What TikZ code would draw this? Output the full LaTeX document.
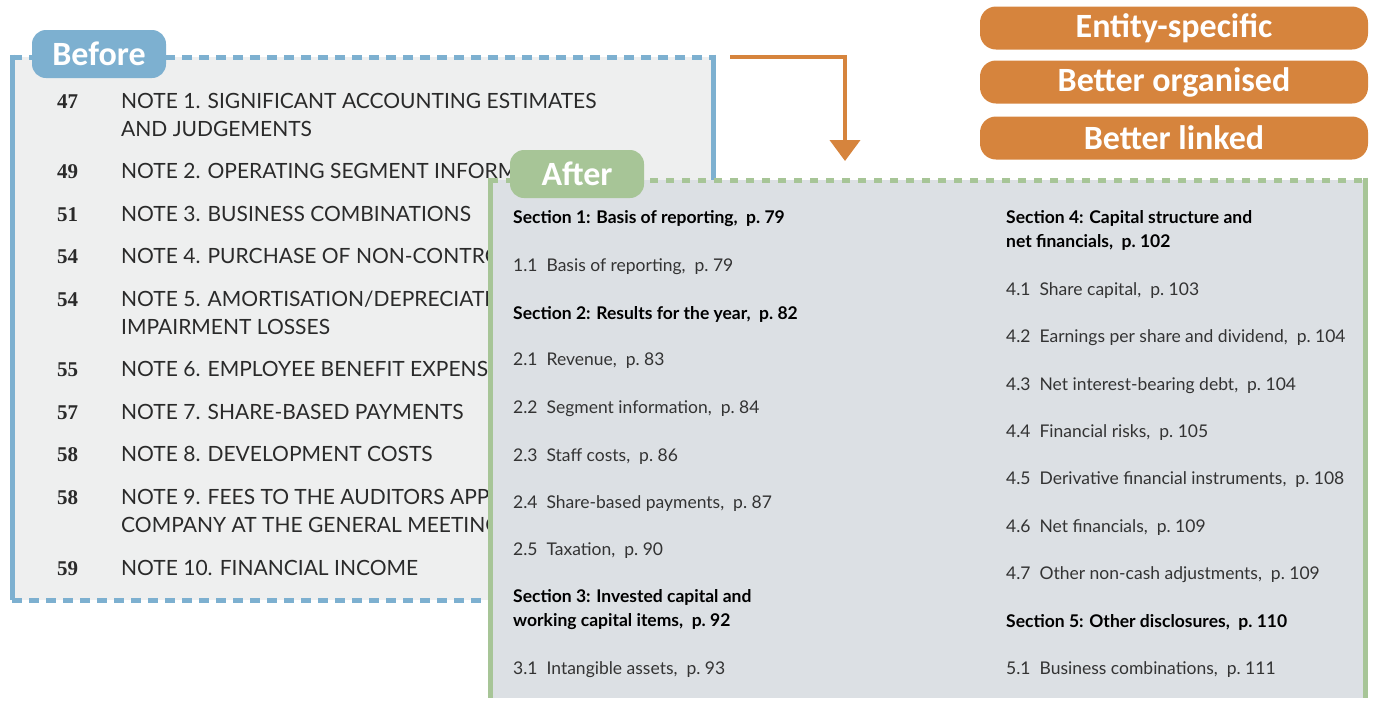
\documentclass[tikz,border=0pt]{standalone}
\usepackage{fontspec}
\setmainfont{Lato}
\newfontfamily\tagfont{Carlito}
\newfontfamily\pagefont{Liberation Serif}
\usetikzlibrary{arrows.meta}
\definecolor{beforeblue}{HTML}{7DB0D0}
\definecolor{aftergreen}{HTML}{A7C597}
\definecolor{keyorange}{HTML}{D6843D}
\definecolor{beforefill}{HTML}{EEEFEF}
\definecolor{afterfill}{HTML}{DCE0E4}
\definecolor{notegray}{HTML}{2A2A2A}
\definecolor{itemgray}{HTML}{333333}
\tikzstyle{tag}=[rounded corners=14pt, minimum width=134pt, minimum height=48pt, text=white, font=\tagfont\bfseries\fontsize{34}{34}\selectfont]
\tikzstyle{pill}=[rounded corners=16pt, fill=keyorange, minimum width=388pt, minimum height=43pt, text=white, font=\tagfont\bfseries\fontsize{34}{34}\selectfont]
\tikzstyle{note}=[anchor=base west, align=left, inner sep=0pt, text=notegray, font=\fontsize{21}{28}\selectfont]
\tikzstyle{pagenum}=[anchor=base west, inner sep=0pt, text=notegray, font=\pagefont\bfseries\fontsize{21}{28}\selectfont]
\tikzstyle{sect}=[anchor=base west, align=left, inner sep=0pt, text=black, font=\bfseries\fontsize{17.5}{24}\selectfont]
\tikzstyle{item}=[anchor=base west, inner sep=0pt, text=itemgray, font=\fontsize{17.5}{24}\selectfont]
\tikzstyle{frame}=[line width=5pt]

\begin{document}
\begin{tikzpicture}[x=1pt,y=-1pt]
\useasboundingbox (0,0) rectangle (1375,702);

% before box
\fill[beforefill] (12,57) rectangle (713,600);
\draw[frame, beforeblue] (12,54.5) -- (12,600) (713,54.5) -- (713,600);
\draw[frame, beforeblue, dash pattern=on 10pt off 7pt] (12,57) -- (713,57) (12,600) -- (713,600);
\node[tag, fill=beforeblue] (before) at (99,54) {Before};
% number baseline / last line baseline / text
\foreach \p/\y/\z/\t [count=\k] in {
	47/108/136/{NOTE 1. SIGNIFICANT ACCOUNTING ESTIMATES\\AND JUDGEMENTS},
	49/178/178/{NOTE 2. OPERATING SEGMENT INFORMATION},
	51/221/221/{NOTE 3. BUSINESS COMBINATIONS},
	54/263/263/{NOTE 4. PURCHASE OF NON-CONTROLLING INTERESTS},
	54/306/334/{NOTE 5. AMORTISATION/DEPRECIATION AND\\IMPAIRMENT LOSSES},
	55/376/376/{NOTE 6. EMPLOYEE BENEFIT EXPENSES},
	57/419/419/{NOTE 7. SHARE-BASED PAYMENTS},
	58/461/461/{NOTE 8. DEVELOPMENT COSTS},
	58/504/532/{NOTE 9. FEES TO THE AUDITORS APPOINTED BY THE\\COMPANY AT THE GENERAL MEETING},
	59/575/575/{NOTE 10. FINANCIAL INCOME}}{
	\node[pagenum] (num\k) at (57,\y) {\p};
	\node[note] (note\k) at (121,\z) {\t};
	}

% arrow
\coordinate (turnfrom) at (730,57);
\coordinate (turnto) at (845,161);
\draw[keyorange, line width=4pt, -{Triangle[width=30pt,length=21pt]}] (turnfrom) -| (turnto);

% key points
\node[pill] (specific) at (1174,28) {Entity-specific};
\node[pill] (organised) at (1174,82) {Better organised};
\node[pill] (linked) at (1174,138) {Better linked};

% after box
\fill[afterfill] (490,180) rectangle (1365,698);
\draw[frame, aftergreen] (490,177.5) -- (490,698) (1365,177.5) -- (1365,698);
\draw[frame, aftergreen, dash pattern=on 8pt off 8pt] (490,180) -- (1365,180);
\node[tag, fill=aftergreen] (after) at (577,174) {After};

% y is the baseline of the last line
\foreach \y/\t [count=\k] in {
	223/{Section 1: Basis of reporting,~~p.~79},
	319/{Section 2: Results for the year,~~p.~82},
	626/{Section 3: Invested capital and\\working capital items,~~p.~92}}{
	\node[sect] (lsect\k) at (513,\y) {\t};
	}
\foreach \y/\t [count=\k] in {
	271/{1.1~~Basis of reporting,~~p.~79},
	365/{2.1~~Revenue,~~p.~83},
	413/{2.2~~Segment information,~~p.~84},
	461/{2.3~~Staff costs,~~p.~86},
	508/{2.4~~Share-based payments,~~p.~87},
	555/{2.5~~Taxation,~~p.~90},
	674/{3.1~~Intangible assets,~~p.~93}}{
	\node[item] (litem\k) at (513,\y) {\t};
	}
\foreach \y/\t [count=\k] in {
	247/{Section 4: Capital structure and\\net financials,~~p.~102},
	627/{Section 5: Other disclosures,~~p.~110}}{
	\node[sect] (rsect\k) at (1006,\y) {\t};
	}
\foreach \y/\t [count=\k] in {
	295/{4.1~~Share capital,~~p.~103},
	342/{4.2~~Earnings per share and dividend,~~p.~104},
	390/{4.3~~Net interest-bearing debt,~~p.~104},
	437/{4.4~~Financial risks,~~p.~105},
	484/{4.5~~Derivative financial instruments,~~p.~108},
	532/{4.6~~Net financials,~~p.~109},
	579/{4.7~~Other non-cash adjustments,~~p.~109},
	674/{5.1~~Business combinations,~~p.~111}}{
	\node[item] (ritem\k) at (1006,\y) {\t};
	}
\end{tikzpicture}
\end{document}
